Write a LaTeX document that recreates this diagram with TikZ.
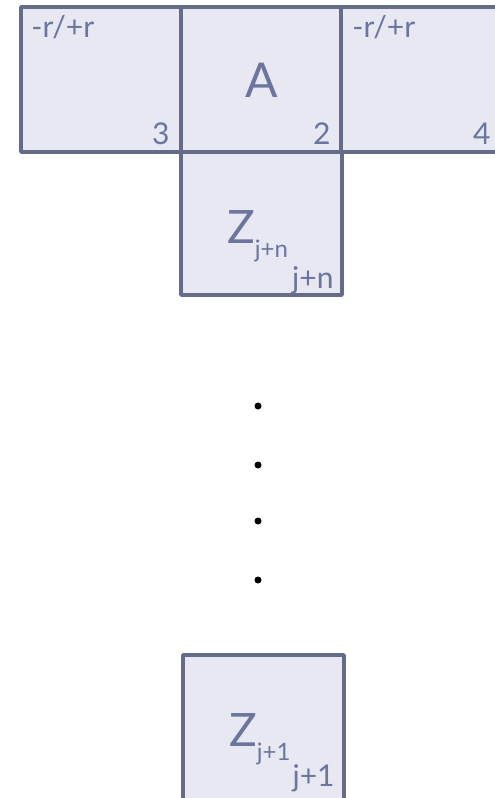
\documentclass[tikz,border=0pt]{standalone}
\usepackage{fontspec}
\setmainfont{Lato}
\usetikzlibrary{positioning, calc}
\definecolor{frameGray}{RGB}{100,108,138}
\definecolor{cellFill}{RGB}{231,232,242}
\definecolor{labelBlue}{RGB}{108,117,158}
\newcommand{\zsub}[1]{\raisebox{-14pt}{\fontsize{24}{26}\selectfont #1}}

\begin{document}
\begin{tikzpicture}[x=1pt, y=-1pt,
    cell/.style={draw=frameGray, fill=cellFill, line width=3.5pt, line join=round,
                 minimum width=160pt, minimum height=145pt, inner sep=0pt},
    small/.style={text=labelBlue, font=\fontsize{30}{33}\selectfont, inner sep=0pt},
    big/.style={text=labelBlue, font=\fontsize{46}{50}\selectfont, inner sep=0pt},
    vdot/.style={circle, fill=black, inner sep=0pt, minimum size=7pt}
  ]
  \clip (0,0) rectangle (495,798);

  % top row
  \node[cell] (left)   at (101,79.5) {};
  \node[cell] (middle) at (261,79.5) {};
  \node[cell] (right)  at (421,79.5) {};
  \node[cell, minimum width=161pt, minimum height=143pt] (zn) at (261.5,223.5) {};

  \node[small, anchor=base west] (lr) at ($(left.north west)+(12,32)$)  {-r/+r};
  \node[small, anchor=base west] (rr) at ($(right.north west)+(13,32)$) {-r/+r};
  \node[small, anchor=base east] (n3) at ($(left.south east)+(-13,-9)$)   {3};
  \node[small, anchor=base east] (n2) at ($(middle.south east)+(-12,-9)$) {2};
  \node[small, anchor=base east] (n4) at ($(right.south east)+(-12,-9)$)  {4};
  \node[big, font=\fontsize{48}{52}\selectfont] (a) at ($(middle.center)+(1,1)$) {A};

  \node[big, anchor=base west] (zlbl) at (227,243) {Z\zsub{j+n}};
  \node[small, anchor=base east] (jn) at ($(zn.south east)+(-10,-8)$) {j+n};

  % dots
  \foreach \y [count=\i] in {406,465,521,580}
    \node[vdot] (d\i) at (258,\y) {};

  % bottom cell
  \node[cell, minimum width=161pt, minimum height=160pt] (z1) at (263.5,735) {};
  \node[big, anchor=base west] (z1lbl) at (229,746) {Z\zsub{j+1}};
  \node[small, anchor=base east] (j1) at ($(z1.north east)+(-11,133)$) {j+1};
\end{tikzpicture}
\end{document}
